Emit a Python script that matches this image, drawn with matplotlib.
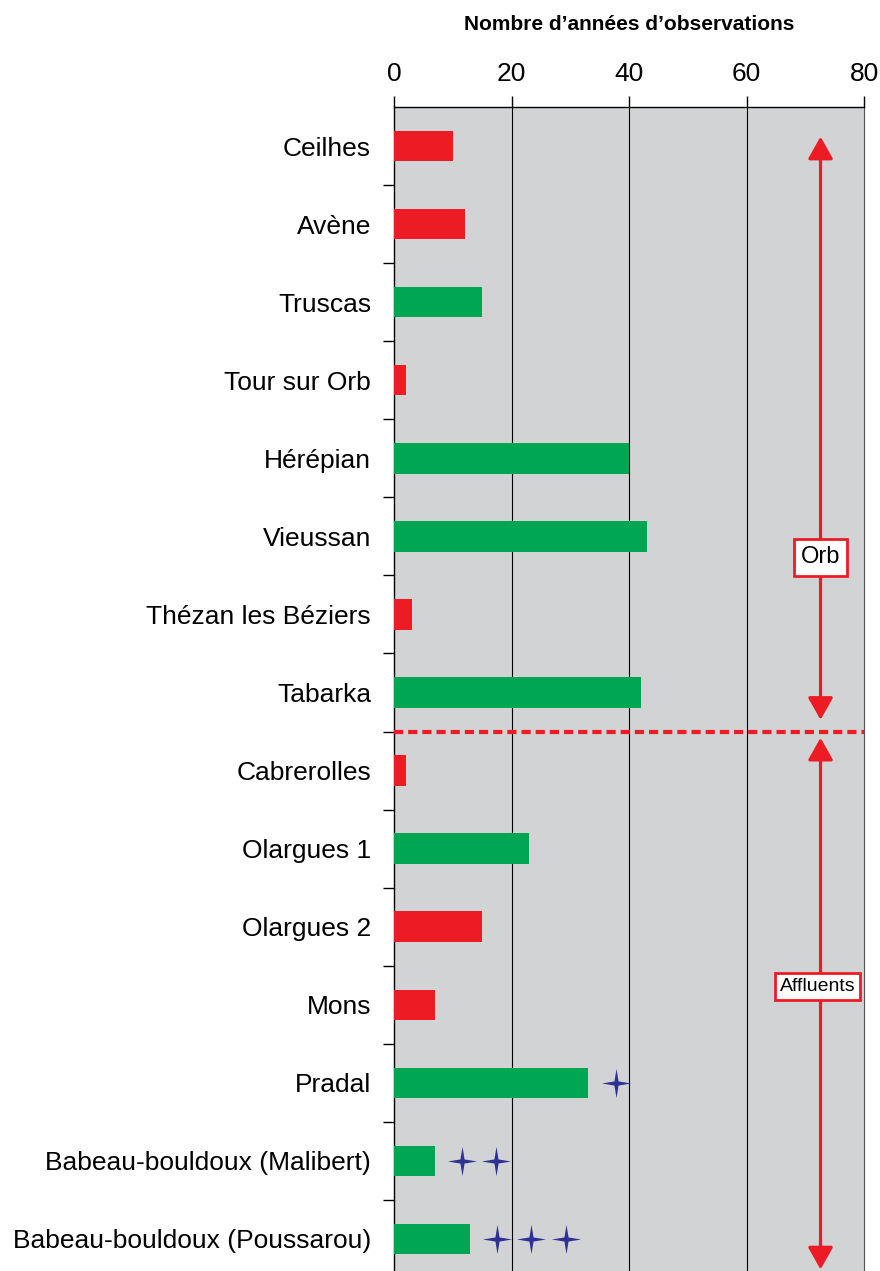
import matplotlib
matplotlib.use('Agg')
import matplotlib.pyplot as plt
import numpy as np
from matplotlib.path import Path

plt.rcParams['font.family'] = ['Liberation Sans', 'DejaVu Sans']

# Data
stations = ["Ceilhes", "Avène", "Truscas", "Tour sur Orb", "Hérépian", "Vieussan",
            "Thézan les Béziers", "Tabarka", "Cabrerolles", "Olargues 1", "Olargues 2",
            "Mons", "Pradal", "Babeau-bouldoux (Malibert)", "Babeau-bouldoux (Poussarou)"]
years = [10, 12, 15, 2, 40, 43, 3, 42, 2, 23, 15, 7, 33, 7, 13]
kind = ["r", "r", "g", "r", "g", "g", "r", "g", "r", "g", "r", "r", "g", "g", "g"]
# star markers (station index, x value)
star_rows = [12, 13, 13, 14, 14, 14]
star_x = [37.8, 11.6, 17.4, 17.5, 23.4, 29.3]

red = '#ED1C24'
green = '#00A651'
navy = '#2E3192'
colors = {"r": red, "g": green}

# 4-pointed star marker
r_in = 0.2
verts = []
for k in range(4):
    a = np.pi / 2 * k
    verts.append((np.cos(a), np.sin(a)))
    verts.append((r_in * np.cos(a + np.pi / 4), r_in * np.sin(a + np.pi / 4)))
verts.append(verts[0])
codes = [Path.MOVETO] + [Path.LINETO] * 7 + [Path.CLOSEPOLY]
star = Path(verts, codes)

fig = plt.figure(figsize=(8.8, 12.71), dpi=100)
ax = fig.add_axes([394 / 880, -7 / 1271, 470 / 880, 1171 / 1271])
ax.set_facecolor('#D1D3D4')

y = np.arange(len(stations))
ax.barh(y, years, height=0.39, color=[colors[k] for k in kind], zorder=3)
ax.plot(star_x, star_rows, linestyle='none', marker=star, ms=21, color=navy,
        markeredgewidth=0, zorder=4)

ax.set_xlim(0, 80)
ax.set_ylim(len(stations) - 0.5, -0.5)
ax.set_xticks([0, 20, 40, 60, 80])
ax.xaxis.tick_top()
ax.tick_params(axis='x', direction='out', length=8, width=1, pad=7, labelsize=19)
for xv in [20, 40, 60]:
    ax.axvline(xv, color='black', lw=0.8, zorder=1)

ax.set_yticks(y)
ax.set_yticklabels(stations, fontsize=19)
ax.set_yticks(np.arange(len(stations) - 1) + 0.5, minor=True)
ax.tick_params(axis='y', which='major', length=0, pad=16.5)
ax.tick_params(axis='y', which='minor', length=8, width=1, direction='out')

for s in ['top', 'left']:
    ax.spines[s].set_linewidth(1)
ax.spines['right'].set_color('#555555')
ax.spines['bottom'].set_visible(False)

ax.text(0.5, 1.0 + 82 / 1171, "Nombre d’années d’observations", transform=ax.transAxes,
        ha='center', va='center', fontsize=15, fontweight='bold')

# Orb / Affluents separation
ax.axhline(7.5, color=red, lw=3, linestyle=(0, (2.2, 1.2)), zorder=5)

arr_x = 72.6
astyle = '<|-|>,head_length=0.85,head_width=0.48'
ax.annotate('', xy=(arr_x, -0.12), xytext=(arr_x, 7.35),
            arrowprops=dict(arrowstyle=astyle, color=red, lw=2.3,
                            shrinkA=0, shrinkB=0, mutation_scale=16), zorder=5)
ax.annotate('', xy=(arr_x, 7.58), xytext=(arr_x, 14.39),
            arrowprops=dict(arrowstyle=astyle, color=red, lw=2.3,
                            shrinkA=0, shrinkB=0, mutation_scale=16), zorder=5)

ax.text(arr_x, 5.27, "Orb", ha='center', va='center', fontsize=17, zorder=6,
        bbox=dict(boxstyle='square,pad=0.3', facecolor='white', edgecolor=red, lw=2))
ax.text(arr_x - 0.5, 10.77, "Affluents", ha='center', va='center', fontsize=14, zorder=6,
        bbox=dict(boxstyle='square,pad=0.25', facecolor='white', edgecolor=red, lw=2))

fig.savefig('out.png', dpi=100)
